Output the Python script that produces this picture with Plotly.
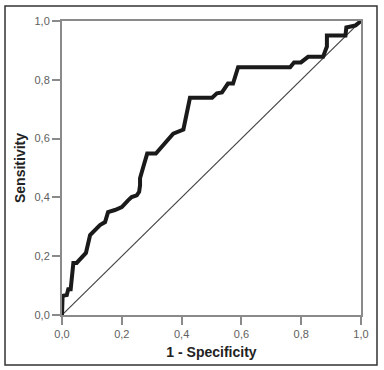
import plotly.graph_objects as go

fpr = [0.0, 0.002, 0.016, 0.021, 0.029, 0.038, 0.049, 0.066, 0.080, 0.094, 0.110, 0.127, 0.144, 0.154,
       0.177, 0.200, 0.221, 0.233, 0.250, 0.258, 0.261, 0.261, 0.272, 0.285, 0.314, 0.339, 0.372, 0.406,
       0.411, 0.428, 0.502, 0.518, 0.535, 0.555, 0.572, 0.589, 0.763, 0.776, 0.799, 0.823, 0.873, 0.881,
       0.886, 0.886, 0.948, 0.951, 0.982, 1.0]
tpr = [0.0, 0.065, 0.068, 0.088, 0.088, 0.177, 0.177, 0.197, 0.211, 0.272, 0.289, 0.306, 0.316, 0.350,
       0.357, 0.367, 0.390, 0.401, 0.407, 0.419, 0.441, 0.465, 0.504, 0.549, 0.549, 0.577, 0.617, 0.631,
       0.656, 0.739, 0.739, 0.754, 0.757, 0.787, 0.787, 0.843, 0.843, 0.859, 0.859, 0.878, 0.878, 0.907,
       0.913, 0.951, 0.951, 0.978, 0.985, 1.0]
ref_x = [0.0, 1.0]
ref_y = [0.0, 1.0]

tick_vals = [0.0, 0.2, 0.4, 0.6, 0.8, 1.0]
tick_text = ["0,0", "0,2", "0,4", "0,6", "0,8", "1,0"]

fig = go.Figure()
fig.add_trace(go.Scatter(x=ref_x, y=ref_y, mode="lines",
                         line=dict(color="#444444", width=1.2), hoverinfo="skip"))
fig.add_trace(go.Scatter(x=fpr, y=tpr, mode="lines",
                         line=dict(color="#1a1a1a", width=4, shape="linear")))

axis_common = dict(
    range=[0, 1], tickvals=tick_vals, ticktext=tick_text,
    showgrid=False, zeroline=False, showline=True, mirror=True,
    linecolor="#8a8a8a", linewidth=2, ticks="outside", ticklen=8,
    tickcolor="#8a8a8a", tickwidth=2,
    tickfont=dict(family="Liberation Sans, Arial", size=11, color="#606060"),
)

fig.update_layout(
    width=384, height=370,
    margin=dict(l=62, r=23, t=21, b=55),
    paper_bgcolor="white", plot_bgcolor="white",
    showlegend=False,
    xaxis=dict(**axis_common,
               title=dict(text="<b>1 - Specificity</b>", standoff=8,
                          font=dict(family="Liberation Sans, Arial", size=14, color="#222222"))),
    yaxis=dict(**axis_common,
               title=dict(text="<b>Sensitivity</b>", standoff=6,
                          font=dict(family="Liberation Sans, Arial", size=14, color="#222222"))),
    shapes=[dict(type="rect", xref="paper", yref="paper",
                 x0=-0.1906, x1=1.0535, y0=-0.170, y1=1.051,
                 line=dict(color="#333333", width=1.5), layer="below")],
)

fig.write_html("out.html", config={"displayModeBar": False},
               post_script="document.body.style.margin='0';document.body.style.overflow='hidden';")
